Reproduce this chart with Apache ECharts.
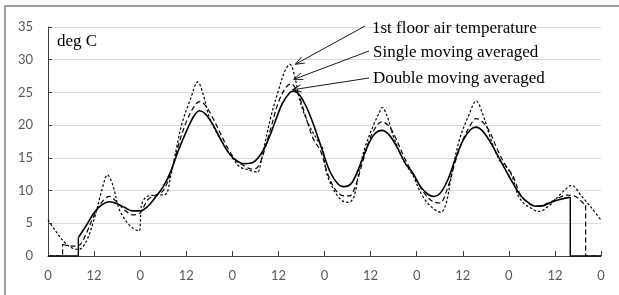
<!DOCTYPE html>
<html>
<head>
<meta charset="utf-8">
<script src="https://cdn.jsdelivr.net/npm/echarts@6/dist/echarts.min.js"></script>
<style>
  html, body { margin: 0; padding: 0; background: #fff; }
  #chart { width: 619px; height: 295px; }
</style>
</head>
<body>
<div id="chart"></div>
<script>
// hours from start, 0..144 (6 days), tick every 12 h
const xTicks = [0, 12, 24, 36, 48, 60, 72, 84, 96, 108, 120, 132, 144]
const tickLabels = ['0', '12', '0', '12', '0', '12', '0', '12', '0', '12', '0', '12', '0']

// 1st floor air temperature [hour, deg C]
const rawTemp = [
  [0, 5.5], [2, 3.8], [4, 2.3], [6, 1.3], [8, 1.0], [10, 2.3], [12, 5.6], [14, 10.0], [15.5, 12.4],
  [17, 10.6], [18.5, 7.2], [20.5, 5.2], [22, 4.3], [23.7, 3.8], [24.3, 7.6], [25.5, 9.0], [28, 9.3],
  [30.5, 9.4], [32, 12.3], [33.5, 16.6], [35, 20.5], [37, 23.8], [39, 26.6], [40.5, 24.5], [42, 21.2],
  [44, 18.8], [46, 16.8], [48, 15.0], [50, 13.6], [52, 13.2], [54.5, 12.8], [55.5, 14.5], [56.5, 17.2],
  [58, 21.2], [60, 25.3], [61.7, 28.3], [63, 29.3], [64.3, 27.3], [65.6, 23.7], [67.8, 20.2],
  [70.4, 17.5], [71.5, 16.5], [72.5, 12.8], [74.4, 10.1], [76.5, 8.5], [78.3, 8.2], [79.7, 9.1],
  [81, 13.0], [82.5, 16.5], [84.9, 20.2], [86.2, 21.8], [87, 22.7], [88.3, 21.4], [90, 18.2],
  [92.7, 14.5], [95, 12.3], [97.6, 9.1], [100.2, 7.3], [102.3, 6.7], [103.7, 8.1], [105, 12.1],
  [107.1, 17.7], [109.7, 21.7], [111.5, 23.7], [113.2, 21.7], [115.4, 17.7], [117.6, 14.6],
  [119.5, 13.5], [120.9, 12.1], [122.4, 9.3], [124, 8.0], [125.9, 7.3], [127.7, 6.8], [130.3, 7.6],
  [132.9, 9.1], [134.6, 10.1], [136.3, 10.8], [139, 9.1], [141.6, 7.3], [144, 5.5]
]

// single moving averaged (no value outside 3.8 .. 140 h)
const singleStart = 3.8
const singleEnd = 140
const singleAvg = [
  [3.8, 1.8], [6, 1.5], [8, 1.6], [10, 3.5], [12, 6.2], [14, 8.2], [16, 9.1], [18, 8.2], [20, 7.0],
  [22, 6.3], [24, 6.6], [26, 8.6], [28, 9.3], [30, 10.0], [32, 12.8], [34, 17.0], [36, 20.5],
  [38, 22.8], [39.5, 23.6], [41, 23.0], [43, 21.0], [45, 18.6], [47, 16.3], [49, 14.6], [51, 13.8],
  [53, 13.3], [54.5, 13.5], [56, 15.5], [58, 19.5], [60, 23.5], [62, 25.8], [63.3, 26.3], [65, 25.0],
  [67, 21.5], [69, 18.0], [71, 16.0], [73, 12.3], [75, 10.0], [77, 9.2], [78.5, 9.2], [80, 10.6],
  [82, 14.5], [84, 18.2], [86, 20.2], [87, 20.5], [88.5, 20.0], [90, 18.7], [93, 14.8], [96, 11.5],
  [98, 9.6], [100, 8.4], [102, 8.1], [104, 10.3], [106, 14.3], [108, 17.7], [110, 20.0],
  [111.5, 21.0], [113, 20.6], [115, 19.0], [117, 16.3], [119, 14.0], [121, 12.3], [123, 9.4],
  [125, 8.1], [127, 7.6], [129, 7.8], [131, 8.3], [133, 8.9], [135, 9.3], [137, 9.2], [139, 8.3],
  [140, 7.7]
]

// double moving averaged (no value outside 7.9 .. 136 h)
const doubleStart = 7.9
const doubleEnd = 136
const doubleAvg = [
  [7.9, 2.8], [10, 4.7], [12, 6.6], [14, 7.8], [16, 8.3], [18, 8.0], [20, 7.4], [22, 6.9], [24, 6.9],
  [26, 7.6], [28, 9.0], [30, 10.6], [32, 13.0], [34, 16.2], [36, 19.0], [38, 21.4], [39.5, 22.2],
  [41, 21.7], [43, 20.0], [45, 17.8], [47, 15.8], [49, 14.6], [51, 14.1], [53, 14.2], [55, 15.2],
  [57, 17.3], [59, 20.3], [61, 23.3], [63, 25.0], [64, 25.2], [65.5, 24.6], [67.5, 22.5],
  [69.5, 19.5], [71.5, 16.0], [73.5, 12.8], [75.5, 11.0], [77, 10.6], [79, 11.1], [81, 13.5],
  [83, 16.5], [85, 18.6], [87, 19.2], [89, 18.4], [91, 16.5], [93, 14.2], [95, 12.7], [97, 10.6],
  [99, 9.4], [100.5, 9.1], [102, 9.5], [104, 11.5], [106, 14.7], [108, 17.6], [110, 19.3],
  [111.5, 19.7], [113, 19.2], [115, 17.6], [117, 15.5], [119, 13.3], [121, 11.2], [123, 9.3],
  [125, 8.2], [127, 7.6], [129, 7.7], [131, 8.2], [133, 8.6], [136, 9.0]
]

// annotation texts and the point each arrow touches [hour, deg C]
const notes = ['1st floor air temperature', 'Single moving averaged', 'Double moving averaged']
const noteTargets = [[64.4, 29.3], [64.0, 27.0], [63.6, 25.4]]

const axisColor = '#404040'
const labelColor = '#595959'
const serif = '"Liberation Serif", "Times New Roman", serif'

// the averaged series sit at zero where the window is incomplete
function edges(data, start, end) {
  const first = data[0][1]
  const last = data[data.length - 1][1]
  return [[0, 0], [start, 0], [start, first], '-', [end, last], [end, 0], [144, 0]]
}

const chart = echarts.init(document.getElementById('chart'), null, { renderer: 'canvas' })

const option = {
  animation: false,
  backgroundColor: '#fff',
  grid: { left: 48, right: 18, top: 27, bottom: 39 },
  xAxis: {
    type: 'value',
    min: 0,
    max: 144,
    interval: 12,
    axisLine: { lineStyle: { color: axisColor, width: 1 } },
    axisTick: { inside: true, length: 5, lineStyle: { color: axisColor } },
    axisLabel: {
      margin: 13,
      color: labelColor,
      fontFamily: 'Lato',
      fontSize: 13,
      showMinLabel: true,
      showMaxLabel: true,
      formatter: v => tickLabels[xTicks.indexOf(v)]
    },
    splitLine: { show: false }
  },
  yAxis: {
    type: 'value',
    min: 0,
    max: 35,
    interval: 5,
    axisLine: { show: true, lineStyle: { color: axisColor, width: 1 } },
    axisTick: { show: true, inside: true, length: 4, lineStyle: { color: axisColor } },
    axisLabel: { margin: 15, color: labelColor, fontFamily: 'Lato', fontSize: 13 },
    splitLine: { lineStyle: { color: '#d9d9d9', width: 1 } }
  },
  series: [
    {
      name: notes[0],
      type: 'line',
      data: rawTemp,
      smooth: 0.35,
      showSymbol: false,
      lineStyle: { color: '#000', width: 1.2, type: [2.5, 2] },
      z: 3
    },
    {
      name: notes[1],
      type: 'line',
      data: singleAvg,
      smooth: 0.35,
      showSymbol: false,
      lineStyle: { color: '#000', width: 1.2, type: [5, 3] },
      z: 4
    },
    {
      name: notes[1] + ' edges',
      type: 'line',
      data: edges(singleAvg, singleStart, singleEnd),
      showSymbol: false,
      connectNulls: false,
      lineStyle: { color: '#000', width: 1.2, type: [5, 3] },
      z: 4
    },
    {
      name: notes[2],
      type: 'line',
      data: doubleAvg,
      smooth: 0.35,
      showSymbol: false,
      lineStyle: { color: '#000', width: 1.6 },
      z: 5
    },
    {
      name: notes[2] + ' edges',
      type: 'line',
      data: edges(doubleAvg, doubleStart, doubleEnd),
      showSymbol: false,
      connectNulls: false,
      lineStyle: { color: '#000', width: 1.4 },
      z: 5
    }
  ]
}

chart.setOption(option)

// annotations: text lines with arrows pointing at the peak of day 3
const noteText = [[372, 29], [373, 53], [373, 79]]
const noteTail = [[365, 26], [369, 51], [369, 78]]
const graphics = [
  {
    type: 'rect',
    shape: { x: 5, y: 6, width: 640, height: 320 },
    style: { fill: null, stroke: '#7f7f7f', lineWidth: 1.5 },
    silent: true
  },
  {
    type: 'text',
    style: { text: 'deg C', x: 57, y: 42, font: '17px ' + serif, fill: '#000', verticalAlign: 'middle' }
  }
]
notes.forEach((t, i) => {
  const tip = chart.convertToPixel({ gridIndex: 0 }, noteTargets[i])
  const tail = noteTail[i]
  const dx = tip[0] - tail[0]
  const dy = tip[1] - tail[1]
  const len = Math.sqrt(dx * dx + dy * dy)
  const ux = dx / len
  const uy = dy / len
  const L = 9
  const W = 3.5
  graphics.push({
    type: 'text',
    style: { text: t, x: noteText[i][0], y: noteText[i][1], font: '17px ' + serif, fill: '#000', verticalAlign: 'middle' }
  })
  graphics.push({
    type: 'line',
    shape: { x1: tail[0], y1: tail[1], x2: tip[0], y2: tip[1] },
    style: { stroke: '#000', lineWidth: 0.9 }
  })
  graphics.push({
    type: 'polyline',
    shape: {
      points: [
        [tip[0] - ux * L - uy * W, tip[1] - uy * L + ux * W],
        [tip[0], tip[1]],
        [tip[0] - ux * L + uy * W, tip[1] - uy * L - ux * W]
      ]
    },
    style: { stroke: '#000', lineWidth: 0.9, fill: null }
  })
})
chart.setOption({ graphic: graphics })
</script>
</body>
</html>
